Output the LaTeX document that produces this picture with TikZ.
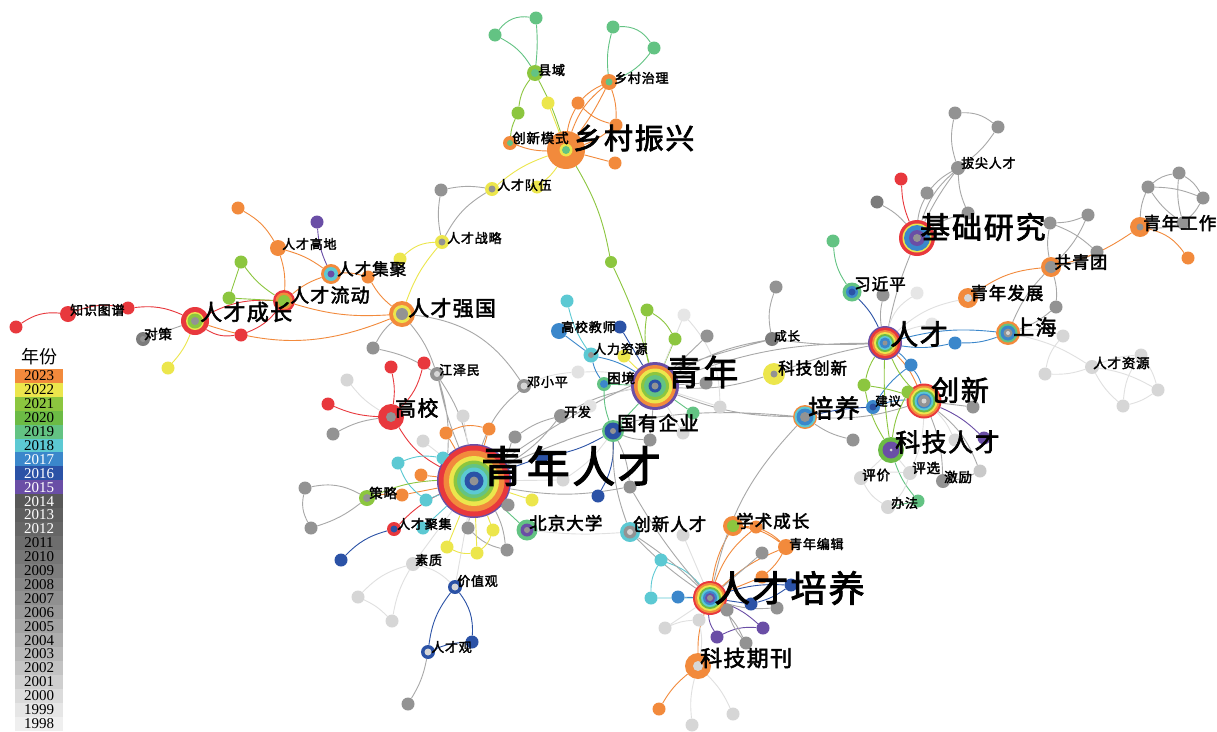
\documentclass[tikz,border=0pt]{standalone}
\usepackage{fontspec}
\newfontfamily\cjk[FakeBold=2.5, LetterSpace=6]{Noto Sans CJK SC}
\newfontfamily\cjkn{Noto Sans CJK SC}
\newfontfamily\lgd{Liberation Serif}
\usetikzlibrary{backgrounds}

% year colours
\definecolor{c23}{HTML}{F28A3C}
\definecolor{c22}{HTML}{ECE64C}
\definecolor{c21}{HTML}{8CC63F}
\definecolor{c20}{HTML}{6CBB45}
\definecolor{c19}{HTML}{63C383}
\definecolor{c18}{HTML}{5CC9D3}
\definecolor{c17}{HTML}{3B87CB}
\definecolor{c16}{HTML}{2B52A6}
\definecolor{c15}{HTML}{6A4EA6}
\definecolor{cr}{HTML}{E8383D}
\definecolor{gn}{HTML}{939393}
\definecolor{gd}{HTML}{7C7C7C}
\definecolor{gl}{HTML}{D6D6D6}
\definecolor{eg}{HTML}{A8A8A8}
\definecolor{el}{HTML}{E0E0E0}
\definecolor{y14}{HTML}{585858}
\definecolor{y13}{HTML}{5F5F5F}
\definecolor{y12}{HTML}{666666}
\definecolor{y11}{HTML}{6E6E6E}
\definecolor{y10}{HTML}{767676}
\definecolor{y09}{HTML}{7E7E7E}
\definecolor{y08}{HTML}{878787}
\definecolor{y07}{HTML}{909090}
\definecolor{y06}{HTML}{999999}
\definecolor{y05}{HTML}{A3A3A3}
\definecolor{y04}{HTML}{ADADAD}
\definecolor{y03}{HTML}{B8B8B8}
\definecolor{y02}{HTML}{C3C3C3}
\definecolor{y01}{HTML}{CFCFCF}
\definecolor{y00}{HTML}{DBDBDB}
\definecolor{y99}{HTML}{E6E6E6}
\definecolor{y98}{HTML}{EFEFEF}

\tikzset{
  kw/.style={circle, fill=#1, inner sep=0pt, minimum size=13pt},
  lk/.style={draw=#1, line width=0.9pt},
  lab/.style={anchor=west, inner sep=0pt, text=black, font=\cjk\fontsize{#1}{#1}\selectfont},
  cell/.style={minimum width=48pt, minimum height=14pt, inner sep=0pt, font=\lgd\fontsize{15}{15}\selectfont}
}
\newcommand{\rings}[2]{\foreach \r/\c in {#2} {\fill[\c] (#1) circle (\r pt);}}

\begin{document}
\begin{tikzpicture}[x=1pt, y=-1pt]
	\useasboundingbox (0,0) rectangle (1217,731);
	% top cluster
	\node[kw=c23, minimum size=38pt] (xczx) at (566,150) {};
	\node[kw=c21, minimum size=16pt] (xy) at (535,73) {};
	\node[kw=c23, minimum size=16pt] (xczl) at (609,82) {};
	\node[kw=c23, minimum size=14pt] (cxms) at (510,143) {};
	\node[kw=c22, minimum size=14pt] (rcdw) at (492,189) {};
	\node[kw=c22, minimum size=14pt] (rczl) at (442,242) {};
	\node[kw=c19] (t1) at (495,35) {};
	\node[kw=c19] (t2) at (536,18) {};
	\node[kw=c19] (t3) at (613,27) {};
	\node[kw=c19] (t4) at (654,48) {};
	\node[kw=c21] (t5) at (518,113) {};
	\node[kw=c22] (t6) at (548,103) {};
	\node[kw=c23] (t7) at (578,103) {};
	\node[kw=c23] (t8) at (616,125) {};
	\node[kw=c23] (t9) at (615,163) {};
	\node[kw=c22] (t10) at (537,187) {};
	\node[kw=gn] (t11) at (441,190) {};
	\node[kw=c22] (t12) at (400,259) {};
	\node[kw=c21, minimum size=12pt] (t13) at (611,262) {};
	% left cluster
	\node[kw=c23, minimum size=26pt] (rcqg) at (402,314) {};
	\node[kw=c23, minimum size=20pt] (rcjj) at (331,274) {};
	\node[kw=cr, minimum size=22pt] (rcld) at (284,301) {};
	\node[kw=cr, minimum size=28pt] (rccz) at (195,321) {};
	\node[kw=c23, minimum size=16pt] (rcgd) at (278,248) {};
	\node[kw=cr, minimum size=16pt] (zstp) at (68,314) {};
	\node[kw=gd, minimum size=14pt] (dc) at (143,339) {};
	\node[kw=cr] (l1) at (16,327) {};
	\node[kw=cr] (l2) at (128,308) {};
	\node[kw=c22] (l3) at (168,368) {};
	\node[kw=cr] (l4) at (241,335) {};
	\node[kw=c21] (l5) at (229,298) {};
	\node[kw=c21] (l6) at (241,262) {};
	\node[kw=c23] (l7) at (238,208) {};
	\node[kw=c15] (l8) at (317,222) {};
	\node[kw=c23] (l9) at (368,277) {};
	\node[kw=gn] (l10) at (373,348) {};
	% young talent cluster
	\node[kw=c15, minimum size=74pt] (qnrc) at (474,481) {};
	\node[kw=cr, minimum size=26pt] (gx) at (391,417) {};
	\node[kw=gn, minimum size=14pt] (jzm) at (437,374) {};
	\node[kw=gn, minimum size=14pt] (dxp) at (524,386) {};
	\node[kw=gn, minimum size=14pt] (kf) at (561,416) {};
	\node[kw=c19, minimum size=22pt] (gyqy) at (613,431) {};
	\node[kw=c19, minimum size=21pt] (bjdx) at (527,530) {};
	\node[kw=c18, minimum size=20pt] (cxrc) at (630,532) {};
	\node[kw=c21, minimum size=16pt] (cl) at (367,498) {};
	\node[kw=cr, minimum size=14pt] (rcjx) at (394,529) {};
	\node[kw=gl, minimum size=14pt] (sz) at (413,564) {};
	\node[kw=c16, minimum size=14pt] (jzg) at (455,587) {};
	\node[kw=c16, minimum size=14pt] (rcg) at (428,652) {};
	\node[kw=cr] (m1) at (391,367) {};
	\node[kw=cr] (m2) at (424,363) {};
	\node[kw=gl] (m3) at (347,380) {};
	\node[kw=cr] (m4) at (328,404) {};
	\node[kw=gn] (m5) at (333,434) {};
	\node[kw=gl] (m6) at (463,416) {};
	\node[kw=gl] (m7) at (423,441) {};
	\node[kw=c23] (m8) at (446,433) {};
	\node[kw=c23] (m9) at (489,429) {};
	\node[kw=gn] (m10) at (515,437) {};
	\node[kw=c18] (m11) at (398,463) {};
	\node[kw=c18] (m12) at (443,458) {};
	\node[kw=c23] (m13) at (421,475) {};
	\node[kw=c23] (m14) at (402,495) {};
	\node[kw=c18] (m15) at (426,500) {};
	\node[kw=gn] (m16) at (305,488) {};
	\node[kw=gn] (m17) at (311,528) {};
	\node[kw=c18] (m18) at (423,528) {};
	\node[kw=c16] (m19) at (341,560) {};
	\node[kw=c22] (m20) at (447,547) {};
	\node[kw=c22] (m21) at (477,553) {};
	\node[kw=c22] (m22) at (493,530) {};
	\node[kw=c22] (m23) at (532,500) {};
	\node[kw=gn] (m24) at (468,528) {};
	\node[kw=gn] (m25) at (507,550) {};
	\node[kw=gn] (m26) at (508,505) {};
	\node[kw=c16] (m27) at (542,457) {};
	\node[kw=c16] (m28) at (598,496) {};
	\node[kw=gl] (m29) at (563,480) {};
	\node[kw=gn] (m30) at (630,487) {};
	\node[kw=gl] (m31) at (358,597) {};
	\node[kw=gl] (m32) at (392,621) {};
	\node[kw=c16] (m33) at (472,642) {};
	\node[kw=gn] (m34) at (408,704) {};
	\node[kw=gl!70!white] (m35) at (578,372) {};
	\node[kw=gl!70!white] (m36) at (590,406) {};
	% youth cluster
	\node[kw=c15, minimum size=48pt] (qn) at (655,386) {};
	\node[kw=c17, minimum size=16pt] (gxjs) at (559,331) {};
	\node[kw=c18, minimum size=15pt] (rlzy) at (591,355) {};
	\node[kw=c19, minimum size=14pt] (kj) at (604,384) {};
	\node[kw=c18] (q1) at (567,301) {};
	\node[kw=c16] (q2) at (620,327) {};
	\node[kw=c22] (q3) at (624,356) {};
	\node[kw=c21] (q4) at (647,310) {};
	\node[kw=c21] (q5) at (675,339) {};
	\node[kw=gl!60!white] (q6) at (684,315) {};
	\node[kw=gn] (q7) at (707,336) {};
	\node[kw=gn] (q8) at (706,383) {};
	\node[kw=gl] (q9) at (720,407) {};
	\node[kw=c19] (q10) at (693,413) {};
	\node[kw=gl] (q11) at (683,433) {};
	\node[kw=gn] (q12) at (650,440) {};
	\node[kw=gd, minimum size=14pt] (cz) at (772,339) {};
	\node[kw=gn] (q13) at (776,287) {};
	\node[kw=c22, minimum size=22pt] (kjcx) at (774,374) {};
	% talent cluster
	\node[kw=c15, minimum size=34pt] (rc) at (885,343) {};
	\node[kw=cr, minimum size=35pt] (cx) at (924,401) {};
	\node[kw=c23, minimum size=24pt] (py) at (805,417) {};
	\node[kw=c20, minimum size=26pt] (kjrc) at (891,450) {};
	\node[kw=c17, minimum size=14pt] (jy) at (873,407) {};
	\node[kw=c19, minimum size=19pt] (xjp) at (852,292) {};
	\node[kw=cr, minimum size=36pt] (jcyj) at (917,238) {};
	\node[kw=c23, minimum size=24pt] (sh) at (1008,333) {};
	\node[kw=c23, minimum size=20pt] (qnfz) at (968,298) {};
	\node[kw=c23, minimum size=20pt] (gqt) at (1051,267) {};
	\node[kw=c23, minimum size=20pt] (qngz) at (1140,227) {};
	\node[kw=gn, minimum size=14pt] (btrc) at (958,168) {};
	\node[kw=gl, minimum size=14pt] (rczy) at (1092,367) {};
	\node[kw=cr] (r1) at (901,179) {};
	\node[kw=gn] (r2) at (927,193) {};
	\node[kw=gd] (r3) at (877,202) {};
	\node[kw=gn] (r4) at (968,213) {};
	\node[kw=gn] (r5) at (955,113) {};
	\node[kw=gn] (r6) at (998,127) {};
	\node[kw=c19] (r7) at (833,241) {};
	\node[kw=gn] (r8) at (883,295) {};
	\node[kw=gl!60!white] (r9) at (917,293) {};
	\node[kw=gl!60!white] (r10) at (932,324) {};
	\node[kw=c17] (r11) at (955,343) {};
	\node[kw=gn] (r12) at (1050,223) {};
	\node[kw=gn] (r13) at (1088,215) {};
	\node[kw=gn] (r14) at (1097,252) {};
	\node[kw=gn] (r15) at (1056,307) {};
	\node[kw=gl] (r16) at (1063,336) {};
	\node[kw=gl] (r17) at (1045,374) {};
	\node[kw=gl] (r18) at (1141,355) {};
	\node[kw=gl] (r19) at (1158,390) {};
	\node[kw=gl] (r20) at (1123,406) {};
	\node[kw=gn] (r21) at (1148,187) {};
	\node[kw=gn] (r22) at (1179,173) {};
	\node[kw=gn] (r23) at (1203,198) {};
	\node[kw=gn] (r24) at (1183,223) {};
	\node[kw=c23] (r25) at (1188,258) {};
	\node[kw=c21] (s1) at (864,385) {};
	\node[kw=c17] (s2) at (911,365) {};
	\node[kw=c21] (s3) at (908,392) {};
	\node[kw=gn] (s4) at (973,407) {};
	\node[kw=c15] (s5) at (984,438) {};
	\node[kw=gn] (s6) at (853,440) {};
	\node[kw=gl] (s7) at (955,440) {};
	\node[kw=gl, minimum size=14pt] (pj) at (861,478) {};
	\node[kw=gl, minimum size=14pt] (px) at (910,473) {};
	\node[kw=gn, minimum size=14pt] (jl) at (943,481) {};
	\node[kw=gl, minimum size=14pt] (bf) at (888,507) {};
	\node[kw=gl!80!gn] (s8) at (980,471) {};
	\node[kw=c19] (s9) at (918,501) {};
	% training cluster
	\node[kw=cr, minimum size=34pt] (rcpy) at (710,598) {};
	\node[kw=c23, minimum size=20pt] (xscz) at (733,526) {};
	\node[kw=c23, minimum size=16pt] (qnbj) at (786,547) {};
	\node[kw=c23, minimum size=26pt] (kjqk) at (698,666) {};
	\node[kw=c23] (b1) at (756,527) {};
	\node[kw=gn] (b2) at (762,553) {};
	\node[kw=c23] (b3) at (762,577) {};
	\node[kw=c16] (b4) at (791,585) {};
	\node[kw=c16] (b5) at (751,604) {};
	\node[kw=gn] (b6) at (777,608) {};
	\node[kw=c18] (b7) at (661,560) {};
	\node[kw=c18] (b8) at (651,598) {};
	\node[kw=c17] (b9) at (678,597) {};
	\node[kw=gn] (b10) at (727,610) {};
	\node[kw=gl] (b11) at (665,628) {};
	\node[kw=gl] (b12) at (699,620) {};
	\node[kw=c15] (b13) at (717,637) {};
	\node[kw=c15] (b14) at (763,628) {};
	\node[kw=gn] (b15) at (746,643) {};
	\node[kw=c23] (b16) at (659,709) {};
	\node[kw=gl] (b17) at (692,725) {};
	\node[kw=gl] (b18) at (733,714) {};
	\node[kw=gl] (b19) at (683,535) {};

	% rings
	\rings{qnrc}{35.5/cr, 30.5/c23, 25/c22, 20.5/c21, 17/c19, 13.5/c18, 9.5/c16, 4.5/gn}
	\rings{qn}{21/c23, 17.5/c22, 14/c21, 11/c19, 6.5/c16, 3.5/gn}
	\rings{rc}{15.5/cr, 13/c23, 11/c22, 9/c20, 7/c18, 5.5/c17, 2.5/gn}
	\rings{cx}{15.5/c23, 13.5/c22, 11.5/c20, 9.5/c18, 7.5/c17, 6/gn, 2.5/gl}
	\rings{rcpy}{15/c23, 13/c22, 11/c20, 9/c18, 7/c17, 5/c15, 3/gn}
	\rings{jcyj}{14.5/c22, 13/c17, 8/c15, 4/gn}
	\rings{sh}{9.5/c19, 7.5/c17, 4.5/gn, 2/gl}
	\rings{rccz}{9/c22, 7.5/c21, 4/gn}
	\rings{rcld}{8.5/c23, 6/c21}
	\rings{rcjj}{7/c18, 3.5/c15}
	\rings{rcqg}{9/c22, 6/gn}
	\rings{gx}{5/gn}
	\rings{bjdx}{6.5/c15, 3/gn}
	\rings{gyqy}{8.5/c16, 3/gn}
	\rings{cxrc}{6.5/gn, 3/gl}
	\rings{cl}{4/gn}
	\rings{rcjx}{3.5/c16}
	\rings{jzg}{3.5/gl}
	\rings{rcg}{3.5/gl}
	\rings{py}{10.5/c18, 8.5/c17, 5/gn}
	\rings{kjrc}{8.5/c15, 1.5/gl}
	\rings{jy}{3.5/c16}
	\rings{xjp}{6/c17, 3.5/c16}
	\rings{qnfz}{4/gl}
	\rings{gqt}{6/gn}
	\rings{qngz}{3.5/gn}
	\rings{kjcx}{3.5/gn}
	\rings{rlzy}{3/gn}
	\rings{kj}{4/c17}
	\rings{xczx}{6.5/c22, 4/c19}
	\rings{xy}{4/c19}
	\rings{xczl}{3.5/c19}
	\rings{cxms}{3/c19}
	\rings{rcdw}{3.5/gn}
	\rings{rczl}{3.5/gn}
	\rings{dc}{3/gn}
	\rings{jzm}{3/gl}
	\rings{dxp}{3.5/gl}
	\rings{xscz}{6/c21}
	\rings{kjqk}{5/gl}

	% labels
	\node[lab=43] (qnrc-l) at (481,466) {青年人才};
	\node[lab=35] (qn-l) at (666,372) {青年};
	\node[lab=29] (xczx-l) at (573,138) {乡村振兴};
	\node[lab=36] (rcpy-l) at (714,588) {人才培养};
	\node[lab=30] (jcyj-l) at (920,227) {基础研究};
	\node[lab=28] (rc-l) at (890,334) {人才};
	\node[lab=28] (cx-l) at (931,390) {创新};
	\node[lab=25] (py-l) at (808,408) {培养};
	\node[lab=25] (kjrc-l) at (895,442) {科技人才};
	\node[lab=22] (kjqk-l) at (700,658) {科技期刊};
	\node[lab=22] (rccz-l) at (200,312) {人才成长};
	\node[lab=21] (rcqg-l) at (408,308) {人才强国};
	\node[lab=19] (rcld-l) at (290,295) {人才流动};
	\node[lab=16.5] (rcjj-l) at (337,269) {人才集聚};
	\node[lab=21] (gx-l) at (395,408) {高校};
	\node[lab=19.5] (gyqy-l) at (617,423) {国有企业};
	\node[lab=17.5] (bjdx-l) at (529,523) {北京大学};
	\node[lab=17.5] (cxrc-l) at (633,524) {创新人才};
	\node[lab=17.5] (xscz-l) at (736,521) {学术成长};
	\node[lab=16.5] (kjcx-l) at (778,368) {科技创新};
	\node[lab=21] (sh-l) at (1013,327) {上海};
	\node[lab=17.5] (qnfz-l) at (970,293) {青年发展};
	\node[lab=17] (gqt-l) at (1054,262) {共青团};
	\node[lab=17.5] (qngz-l) at (1143,223) {青年工作};
	\node[lab=16.5] (xjp-l) at (854,284) {习近平};
	\node[lab=13] (xy-l) at (538,70) {县域};
	\node[lab=13] (xczl-l) at (614,78) {乡村治理};
	\node[lab=13.5] (cxms-l) at (512,138) {创新模式};
	\node[lab=13] (rcdw-l) at (497,185) {人才队伍};
	\node[lab=13] (rczl-l) at (447,238) {人才战略};
	\node[lab=13] (rcgd-l) at (282,244) {人才高地};
	\node[lab=13] (zstp-l) at (70,310) {知识图谱};
	\node[lab=13.5] (dc-l) at (144,334) {对策};
	\node[lab=13] (jzm-l) at (439,370) {江泽民};
	\node[lab=13] (dxp-l) at (527,382) {邓小平};
	\node[lab=13] (kf-l) at (564,412) {开发};
	\node[lab=13.5] (cl-l) at (369,493) {策略};
	\node[lab=13] (rcjx-l) at (397,524) {人才聚集};
	\node[lab=13] (sz-l) at (415,560) {素质};
	\node[lab=13] (jzg-l) at (457,581) {价值观};
	\node[lab=13] (rcg-l) at (431,647) {人才观};
	\node[lab=13] (gxjs-l) at (561,327) {高校教师};
	\node[lab=13] (rlzy-l) at (593,349) {人力资源};
	\node[lab=13.5] (kj-l) at (607,378) {困境};
	\node[lab=12.5] (cz-l) at (774,336) {成长};
	\node[lab=12.5] (jy-l) at (875,401) {建议};
	\node[lab=13.5] (pj-l) at (862,475) {评价};
	\node[lab=13.5] (px-l) at (912,468) {评选};
	\node[lab=13.5] (jl-l) at (944,477) {激励};
	\node[lab=13] (bf-l) at (891,503) {办法};
	\node[lab=13] (qnbj-l) at (789,544) {青年编辑};
	\node[lab=13] (btrc-l) at (961,163) {拔尖人才};
	\node[lab=13.5] (rczy-l) at (1093,363) {人才资源};

	% legend
	\node[inner sep=0pt, font=\cjkn\fontsize{18}{18}\selectfont] (lgd-t) at (39,357) {年份};
	\foreach \yr/\c/\t [count=\i from 0] in {2023/c23/black, 2022/c22/black, 2021/c21/black, 2020/c20/black, 2019/c19/black, 2018/c18/black, 2017/c17/white, 2016/c16/white, 2015/c15/white, 2014/y14/white, 2013/y13/white, 2012/y12/white, 2011/y11/black, 2010/y10/black, 2009/y09/black, 2008/y08/black, 2007/y07/black, 2006/y06/black, 2005/y05/black, 2004/y04/black, 2003/y03/black, 2002/y02/black, 2001/y01/black, 2000/y00/black, 1999/y99/black, 1998/y98/black}
		\node[cell, fill=\c, text=\t] (lg\yr) at (39,376+13.9*\i) {\yr};

	% links
	\begin{scope}[on background layer]
		\fill[white] (0,0) rectangle (1217,731);
		% top
		\draw[lk=c19] (t1) to[bend left=30] (t2) (t1) to[bend left=15] (xy) (t2) to[bend left=5] (xy)
			(t3) to[bend left=30] (t4) (t3) to[bend right=10] (xczl) (t4) to[bend left=15] (xczl);
		\draw[lk=c21] (xy) to[bend right=15] (t5) (t5) to[bend right=10] (cxms) (xy) to[bend left=5] (xczx)
			(xczx) to[bend left=10] (t13) (t13) to[bend left=5] (qn);
		\draw[lk=c22] (t6) -- (xczx) (xczx) to[bend left=10] (t10) (xczx) to[bend right=10] (rcdw)
			(rczl) to[bend right=20] (t12) (rczl) to[bend right=10] (rcqg);
		\draw[lk=c23] (xczl) to[bend right=15] (xczx) (xczl) to[bend left=5] (xczx) (xczl) to[bend right=10] (t7)
			(xczl) to[bend left=10] (t8) (t7) to[bend right=10] (xczx) (t7) to[bend right=15] (t8)
			(t8) to[bend left=10] (xczx) (t9) -- (xczx) (cxms) to[bend right=10] (xczx);
		\draw[lk=eg] (rcdw) to[bend right=10] (t11) (rcdw) to[bend right=15] (rczl) (t11) to[bend right=10] (rczl);
		% left
		\draw[lk=cr] (zstp) to[bend right=20] (l1) (zstp) to[bend left=15] (l2) (l2) to[bend left=15] (rccz)
			(rccz) to[bend right=20] (l4) (l4) to[bend right=15] (rcld) (rccz) to[bend left=15] (rcld);
		\draw[lk=eg] (rccz) -- (dc);
		\draw[lk=c22] (rccz) to[bend left=10] (l3);
		\draw[lk=c21] (l5) -- (rcld) (l6) to[bend right=10] (rcld) (l5) -- (l6);
		\draw[lk=c23] (rccz) to[bend right=20] (rcqg) (rcgd) to[bend right=15] (l7) (rcgd) to[bend left=10] (rcjj)
			(rcgd) to[bend left=10] (rcld) (rcjj) to[bend right=10] (rcld) (rcjj) to[bend left=10] (l9)
			(l9) to[bend right=10] (rcqg) (rcld) to[bend right=10] (rcqg);
		\draw[lk=c15] (rcjj) to[bend left=10] (l8);
		\draw[lk=eg] (rcqg) to[bend right=10] (l10) (l10) to[bend left=10] (jzm) (rcqg) to[bend left=10] (jzm)
			(rcqg) to[bend left=25] (dxp);
		% young talent
		\draw[lk=cr] (gx) to[bend right=10] (m1) (gx) to[bend right=15] (m2) (gx) to[bend left=10] (m4)
			(gx) to[bend right=15] (qnrc) (rcjx) to[bend left=10] (qnrc);
		\draw[lk=eg] (gx) to[bend right=10] (m5) (jzm) to[bend left=10] (qnrc) (jzm) to[bend right=5] (qnrc)
			(m10) to[bend left=10] (qnrc) (m10) to[bend left=10] (kf) (dxp) to[bend right=15] (qnrc)
			(kf) to[bend left=10] (qnrc) (kf) to[bend left=10] (qn) (cl) to[bend right=20] (m16)
			(m16) to[bend right=20] (m17) (m17) to[bend right=10] (cl) (m24) -- (qnrc) (m25) to[bend right=10] (qnrc)
			(m26) -- (qnrc) (m24) to[bend right=15] (m25) (m30) to[bend right=10] (gyqy) (m30) to[bend left=10] (qnrc)
			(rcg) to[bend left=10] (m34) (jzm) to[bend left=10] (qnrc.north west);
		\draw[lk=el] (gx) to[bend left=10] (m3) (m6) -- (qnrc) (m7) -- (qnrc) (dxp) to[bend left=10] (m35)
			(m29) -- (qnrc) (m29) to[bend right=10] (gyqy) (bjdx) to[bend right=5] (cxrc) (sz) -- (qnrc)
			(sz) to[bend right=15] (m31) (m31) to[bend left=10] (m32) (m32) to[bend left=10] (sz)
			(sz) to[bend left=15] (jzg) (jzg) -- (qnrc) (m36) to[bend left=10] (qn) (m35) to[bend left=10] (qn);
		\draw[lk=c23] (m8) -- (qnrc) (m8) to[bend left=20] (m9) (m9) -- (qnrc) (m13) -- (qnrc)
			(cl) to[bend left=10] (m14) (m14) -- (qnrc);
		\draw[lk=c18] (m11) to[bend left=15] (m12) (m11) to[bend right=15] (m15) (m12) -- (qnrc)
			(m15) -- (qnrc) (m18) -- (qnrc);
		\draw[lk=c21] (cl) to[bend left=10] (qnrc);
		\draw[lk=c16] (m27) -- (qnrc) (m27) to[bend right=10] (gyqy) (gyqy) to[bend left=15] (m28)
			(rcjx) to[bend right=15] (m19) (jzg) to[bend right=15] (rcg) (jzg) to[bend left=20] (m33)
			(m33) to[bend right=10] (rcg);
		\draw[lk=c22] (m20) -- (qnrc) (m21) -- (qnrc) (m22) -- (qnrc) (m23) -- (qnrc)
			(m20) to[bend right=15] (m21) (m21) to[bend right=15] (m22);
		\draw[lk=c19] (bjdx) -- (qnrc) (gyqy) -- (qn) (gyqy) to[bend left=10] (kj);
		% youth
		\draw[lk=c18] (q1) to[bend right=10] (rlzy);
		\draw[lk=c17] (gxjs) -- (rlzy) (rlzy) to[bend right=10] (kj) (rlzy) to[bend left=10] (qn);
		\draw[lk=c16] (q2) -- (qn);
		\draw[lk=c22] (q3) -- (qn);
		\draw[lk=c19] (kj) -- (qn) (q10) -- (qn);
		\draw[lk=c21] (q4) to[bend right=10] (qn) (q5) -- (qn) (q4) to[bend left=15] (q5);
		\draw[lk=eg] (q7) -- (qn) (q8) -- (qn) (q12) -- (qn) (q12) to[bend left=10] (gyqy)
			(cz) to[bend left=15] (q13) (cz) to[bend right=5] (rc) (cz) to[bend right=10] (qn)
			(kjcx) to[bend left=5] (rc) (kjcx) to[bend left=10] (qn) (qn) to[bend left=10] (rc)
			(qn) to[bend right=10] (py) (qnrc) to[bend left=15] (py) (qnrc) to[bend left=10] (cz);
		\draw[lk=el] (q6) -- (qn) (q9) -- (qn) (q11) -- (qn) (q6) to[bend left=20] (q9);
		% talent
		\draw[lk=c16] (rc) to[bend right=10] (xjp) (py) to[bend left=5] (jy);
		\draw[lk=c19] (xjp) to[bend left=15] (r7) (kjrc) to[bend right=10] (s9) (s9) -- (bf);
		\draw[lk=eg] (rc) to[bend left=5] (jcyj) (rc) to[bend left=10] (r8) (py) to[bend right=10] (s6)
			(py) to[bend right=10] (cx) (cx) -- (s4) (cx) to[bend left=10] (jl) (cx) to[bend left=15] (s8)
			(jl) to[bend right=10] (s8);
		\draw[lk=c17] (rc) to[bend left=10] (sh) (rc) to[bend right=10] (r11) (r11) to[bend right=10] (sh)
			(rc) to[bend left=5] (s2) (s2) to[bend left=10] (cx) (jy) to[bend left=10] (cx) (jy) to[bend left=10] (s2);
		\draw[lk=el] (rc) to[bend left=20] (r9) (rc) to[bend left=10] (r10) (rc) to[bend left=15] (qnfz)
			(cx) to[bend left=10] (px) (cx) to[bend left=10] (s7) (kjrc) -- (pj) (kjrc) -- (px)
			(pj) to[bend right=15] (bf) (pj) to[bend left=10] (px) (px) to[bend left=15] (bf);
		\draw[lk=c23] (rc) to[bend left=10] (cx);
		\draw[lk=c21] (rc) to[bend right=10] (cx) (rc) to[bend right=10] (s1) (s1) to[bend left=5] (cx)
			(rc) to[bend right=5] (kjrc) (s3) -- (cx) (s1) to[bend right=10] (kjrc) (s3) to[bend right=10] (kjrc);
		\draw[lk=c15] (cx) to[bend left=10] (s5);
		\draw[lk=cr] (jcyj) to[bend left=10] (r1);
		\draw[lk=eg] (jcyj) to[bend right=10] (r3) (jcyj) to[bend left=10] (r2) (jcyj) to[bend left=15] (btrc)
			(jcyj) to[bend left=5] (btrc) (jcyj) to[bend left=10] (r4) (btrc) to[bend left=15] (r5)
			(btrc) to[bend right=10] (r6) (r5) to[bend left=20] (r6) (r2) to[bend left=10] (btrc)
			(r4) to[bend left=10] (btrc) (r12) to[bend right=10] (gqt) (r13) to[bend left=10] (gqt)
			(r12) to[bend right=10] (r13) (r12) to[bend left=10] (r14) (r14) to[bend left=10] (gqt)
			(gqt) to[bend left=10] (r15) (gqt) to[bend right=10] (sh) (r15) to[bend left=10] (sh)
			(qngz) to[bend left=10] (r21) (qngz) to[bend right=10] (r24) (r21) to[bend left=15] (r22)
			(r21) to[bend left=10] (r23) (r22) to[bend left=15] (r23) (r22) to[bend right=10] (r24)
			(r23) to[bend left=10] (r24) (r21) to[bend right=10] (r24);
		\draw[lk=c23] (gqt) to[bend right=15] (qnfz) (gqt) to[bend right=10] (qngz) (qngz) to[bend left=20] (r25);
		\draw[lk=el] (sh) to[bend left=15] (r16) (sh) to[bend left=10] (rczy) (r16) to[bend right=15] (r17)
			(r17) to[bend right=10] (rczy) (rczy) to[bend left=10] (r18) (rczy) to[bend left=10] (r19)
			(rczy) to[bend right=10] (r20) (r18) to[bend right=15] (r20) (r19) to[bend left=10] (r20)
			(r18) to[bend left=10] (r19);
		% training
		\draw[lk=c23] (rcpy) to[bend left=10] (xscz) (rcpy) to[bend left=15] (b1) (xscz) -- (b1)
			(b1) to[bend left=10] (qnbj) (rcpy) to[bend left=10] (qnbj) (qnbj) to[bend left=10] (b3)
			(rcpy) -- (b3) (rcpy) to[bend right=10] (kjqk) (kjqk) to[bend right=10] (b16) (xscz) to[bend left=15] (qnbj);
		\draw[lk=c16] (rcpy) to[bend left=10] (b4) (rcpy) -- (b5) (b5) to[bend right=10] (b4);
		\draw[lk=c18] (rcpy) to[bend right=15] (b7) (b7) to[bend right=15] (b8) (b8) -- (rcpy);
		\draw[lk=c17] (b9) -- (rcpy);
		\draw[lk=c15] (rcpy) to[bend right=15] (b13) (rcpy) to[bend left=10] (b14) (b13) to[bend left=15] (b14);
		\draw[lk=eg] (rcpy) -- (b2) (rcpy) to[bend right=10] (b6) (rcpy) -- (b10) (rcpy) to[bend left=10] (b15)
			(b10) to[bend right=10] (b15) (rcpy) to[bend left=5] (cxrc) (rcpy) to[bend right=5] (cxrc)
			(rcpy) to[bend left=15] (py) (rcpy) to[bend left=5] (m30) (cxrc) to[bend left=10] (gyqy);
		\draw[lk=el] (b11) to[bend left=10] (b12) (b12) -- (rcpy) (b11) -- (rcpy) (kjqk) to[bend right=10] (b17)
			(kjqk) to[bend left=10] (b18) (b19) -- (rcpy) (b12) to[bend left=10] (kjqk);
	\end{scope}
\end{tikzpicture}
\end{document}
